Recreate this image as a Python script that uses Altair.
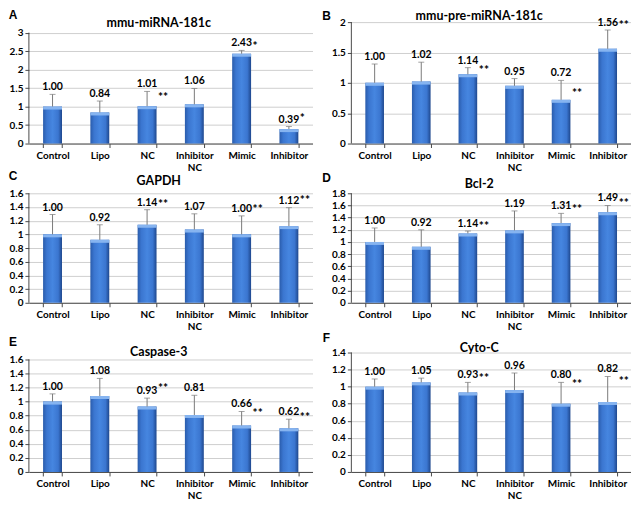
import altair as alt
import pandas as pd

categories = ["Control", "Lipo", "NC", "Inhibitor NC", "Mimic", "Inhibitor"]

letters = ["A", "B", "C", "D", "E", "F"]
titles = ["mmu-miRNA-181c", "mmu-pre-miRNA-181c", "GAPDH", "Bcl-2", "Caspase-3", "Cyto-C"]

a_values = [1.00, 0.84, 1.01, 1.06, 2.43, 0.39]
a_errors = [0.33, 0.31, 0.40, 0.43, 0.09, 0.07]
a_stars = ["", "", "**", "", "*", "*"]
a_star_level = [None, None, 1.28, None, 2.67, 0.72]
a_ticks = [0, 0.5, 1, 1.5, 2, 2.5, 3]

b_values = [1.00, 1.02, 1.14, 0.95, 0.72, 1.56]
b_errors = [0.31, 0.32, 0.11, 0.12, 0.32, 0.31]
b_stars = ["", "", "**", "", "**", "**"]
b_star_level = [None, None, 1.23, None, 0.85, 1.97]
b_ticks = [0, 0.5, 1, 1.5, 2]

c_values = [1.00, 0.92, 1.14, 1.07, 1.00, 1.12]
c_errors = [0.29, 0.22, 0.22, 0.23, 0.27, 0.27]
c_stars = ["", "", "**", "", "**", "**"]
c_star_level = [None, None, 1.46, None, 1.39, 1.51]
c_ticks = [0, 0.2, 0.4, 0.6, 0.8, 1, 1.2, 1.4, 1.6]

d_values = [1.00, 0.92, 1.14, 1.19, 1.31, 1.49]
d_errors = [0.23, 0.28, 0.04, 0.32, 0.16, 0.11]
d_stars = ["", "", "**", "", "**", "**"]
d_star_level = [None, None, 1.28, None, 1.55, 1.65]
d_ticks = [0, 0.2, 0.4, 0.6, 0.8, 1, 1.2, 1.4, 1.6, 1.8]

e_values = [1.00, 1.08, 0.93, 0.81, 0.66, 0.62]
e_errors = [0.11, 0.25, 0.12, 0.28, 0.20, 0.13]
e_stars = ["", "", "**", "", "**", "**"]
e_star_level = [None, None, 1.21, None, 0.85, 0.79]
e_ticks = [0, 0.2, 0.4, 0.6, 0.8, 1, 1.2, 1.4, 1.6]

f_values = [1.00, 1.05, 0.93, 0.96, 0.80, 0.82]
f_errors = [0.09, 0.05, 0.12, 0.20, 0.25, 0.30]
f_stars = ["", "", "**", "", "**", "**"]
f_star_level = [None, None, 1.11, None, 1.04, 1.08]
f_ticks = [0, 0.2, 0.4, 0.6, 0.8, 1, 1.2, 1.4]

FONT = "Lato"
AXIS_COLOR = "#4a4a4a"
ERR_COLOR = "#7a7a7a"

bar_fill = alt.LinearGradient(
    gradient="linear", x1=0, x2=1, y1=0, y2=0,
    stops=[
        alt.GradientStop(color="#2a5cab", offset=0),
        alt.GradientStop(color="#3b76d0", offset=0.2),
        alt.GradientStop(color="#4686e0", offset=0.5),
        alt.GradientStop(color="#3b76d0", offset=0.8),
        alt.GradientStop(color="#1e478d", offset=1),
    ],
)


def panel(values, errors, stars, star_level, ticks, ymax, letter, title,
          width, height, letter_pos, title_dy):
    df = pd.DataFrame({
        "cat": categories,
        "v": values,
        "e": errors,
        "star": stars,
        "star_y": star_level,
    })
    df["top"] = df["v"] + df["e"]
    df["label"] = [f"{v:.2f}" for v in values]

    x = alt.X(
        "cat:N", sort=categories, title=None,
        scale=alt.Scale(paddingInner=0.6, paddingOuter=0.3),
        axis=alt.Axis(
            labelAngle=0, labelFont=FONT, labelFontWeight="bold", labelFontSize=10,
            labelColor="black", labelPadding=3, labelLineHeight=12,
            labelExpr="datum.label == 'Inhibitor NC' ? ['Inhibitor', 'NC'] : datum.label",
            tickBand="extent", tickSize=4, tickColor=AXIS_COLOR,
            domainColor=AXIS_COLOR, grid=False, labelOverlap=False,
        ),
    )
    yscale = alt.Scale(domain=[0, ymax], nice=False, zero=True)
    yaxis = alt.Axis(
        values=ticks, format="~g", title=None, grid=True, gridColor="#cfcfcf",
        gridOpacity=1, gridWidth=1, domain=False, tickSize=4, tickColor=AXIS_COLOR,
        ticks=True, labelFont=FONT, labelFontWeight="bold", labelFontSize=10,
        labelColor="black", labelPadding=2, labelOverlap=False, labelFlush=False,
    )

    def Y(field):
        return alt.Y(field, scale=yscale, axis=yaxis, title=None)

    base = alt.Chart(df).encode(x=x)

    bars = base.mark_bar(color=bar_fill).encode(y=Y("v:Q"))
    cap = base.mark_bar(color="#86b4f0", y2Offset=3).encode(y=Y("v:Q"), y2="v:Q")
    err = base.mark_rule(color=ERR_COLOR, strokeWidth=1).encode(y=Y("v:Q"), y2="top:Q")
    err_cap = base.mark_tick(color=ERR_COLOR, thickness=1, size=6).encode(y=Y("top:Q"))
    labels = base.mark_text(
        font=FONT, fontWeight="bold", fontSize=10.5, baseline="middle", dy=-7,
        fill="#000000"
    ).encode(y=Y("top:Q"), text="label:N")
    star_marks = base.transform_filter("datum.star != ''").mark_text(
        font=FONT, fontWeight="bold", fontSize=12, baseline="middle", align="left",
        dx=11, dy=1, fill="#000000"
    ).encode(y=Y("star_y:Q"), text="star:N")

    yline = alt.Chart(pd.DataFrame({"y0": [0], "y1": [ticks[-1]]})).mark_rule(
        color=AXIS_COLOR
    ).encode(x=alt.value(0), y=Y("y0:Q"), y2="y1:Q")

    title_txt = alt.Chart(pd.DataFrame({"t": [title]})).mark_text(
        font=FONT, fontWeight="bold", fontSize=12.5, baseline="middle", fill="#000000"
    ).encode(x=alt.value(width / 2 - 12), y=alt.value(title_dy), text="t:N")
    letter_txt = alt.Chart(pd.DataFrame({"t": [letter]})).mark_text(
        font="Liberation Sans", fontWeight="bold", fontSize=12, baseline="middle",
        fill="#000000"
    ).encode(x=alt.value(letter_pos[0]), y=alt.value(letter_pos[1]), text="t:N")

    return alt.layer(
        bars, cap, err, err_cap, yline, labels, star_marks, title_txt, letter_txt
    ).properties(width=width, height=height)


W1, W2 = 285, 281
H1, H2, H3 = 122, 110, 120

pA = panel(a_values, a_errors, a_stars, a_star_level, a_ticks, 3.285, letters[0], titles[0],
           W1, H1, (-16, -7), 1)
pB = panel(b_values, b_errors, b_stars, b_star_level, b_ticks, 2.0, letters[1], titles[1],
           W2, H1, (-25, -6), -6)
pC = panel(c_values, c_errors, c_stars, c_star_level, c_ticks, 1.6, letters[2], titles[2],
           W1, H2, (-16, -17), -12)
pD = panel(d_values, d_errors, d_stars, d_star_level, d_ticks, 1.8, letters[3], titles[3],
           W2, H2, (-25, -15), -9)
pE = panel(e_values, e_errors, e_stars, e_star_level, e_ticks, 1.698, letters[4], titles[4],
           W1, H3, (-16, -11), -1)
pF = panel(f_values, f_errors, f_stars, f_star_level, f_ticks, 1.4, letters[5], titles[5],
           W2, H3, (-25, -15), -5)

chart = alt.concat(
    pA, pB, pC, pD, pE, pF,
    columns=2, spacing={"row": 50, "column": 39}, bounds="flush", align="each",
).properties(padding=0, background="white").configure_view(stroke=None)

chart.save("out.html", embed_options={"renderer": "svg", "actions": False})
